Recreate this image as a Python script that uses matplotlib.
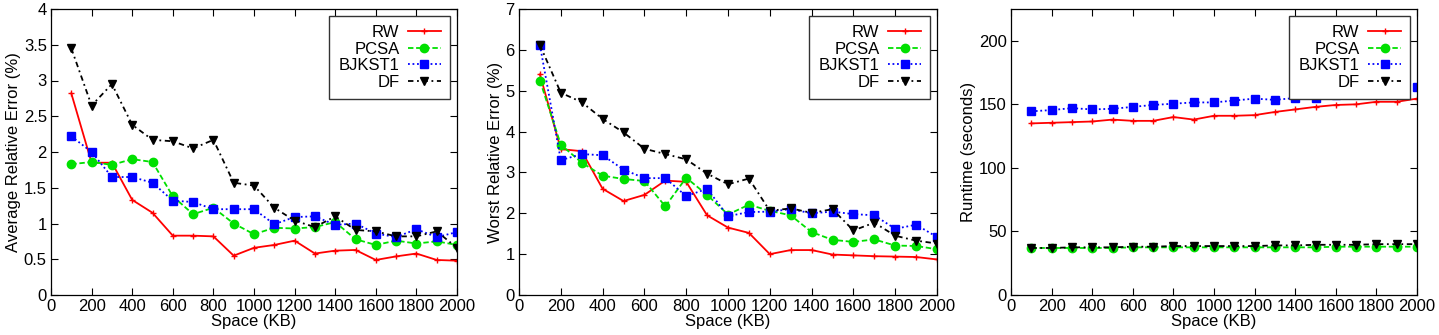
import numpy as np
import matplotlib
matplotlib.use('Agg')
import matplotlib.pyplot as plt
from matplotlib.ticker import FormatStrFormatter

plt.rcParams['font.family'] = ['Liberation Sans', 'DejaVu Sans']
plt.rcParams['font.size'] = 12

# space in KB
space = list(range(100, 2001, 100))

# average relative error (%)
avg_rw = [2.82, 1.85, 1.85, 1.33, 1.15, 0.83, 0.83, 0.82, 0.55, 0.66,
          0.70, 0.76, 0.58, 0.62, 0.63, 0.49, 0.54, 0.58, 0.49, 0.48]
avg_pcsa = [1.83, 1.86, 1.82, 1.90, 1.86, 1.38, 1.13, 1.22, 1.00, 0.85,
            0.94, 0.93, 0.95, 1.02, 0.78, 0.70, 0.76, 0.72, 0.75, 0.70]
avg_bjkst = [2.22, 2.00, 1.65, 1.65, 1.57, 1.32, 1.30, 1.20, 1.20, 1.20,
             0.99, 1.09, 1.10, 0.98, 1.00, 0.86, 0.81, 0.92, 0.81, 0.88]
avg_df = [3.45, 2.65, 2.95, 2.38, 2.17, 2.15, 2.05, 2.17, 1.57, 1.53,
          1.22, 1.04, 0.95, 1.10, 0.91, 0.89, 0.82, 0.82, 0.89, 0.66]

# worst relative error (%)
worst_rw = [5.40, 3.57, 3.52, 2.60, 2.30, 2.45, 2.80, 2.77, 1.95, 1.65,
            1.52, 1.00, 1.10, 1.10, 0.99, 0.97, 0.95, 0.94, 0.93, 0.87]
worst_pcsa = [5.25, 3.68, 3.24, 2.92, 2.84, 2.79, 2.17, 2.87, 2.45, 1.97,
              2.21, 2.06, 1.95, 1.54, 1.35, 1.30, 1.36, 1.21, 1.20, 1.12]
worst_bjkst = [6.12, 3.30, 3.45, 3.42, 3.07, 2.86, 2.86, 2.42, 2.60, 1.93,
               2.03, 2.04, 2.10, 2.00, 2.04, 1.98, 1.95, 1.62, 1.72, 1.42]
worst_df = [6.12, 4.95, 4.72, 4.31, 3.98, 3.58, 3.45, 3.32, 2.97, 2.71,
            2.85, 2.06, 2.12, 2.01, 2.10, 1.58, 1.77, 1.45, 1.33, 1.26]

# runtime (seconds)
rt_rw = [135, 135.5, 136, 136.5, 138, 137, 137, 140, 138, 141,
         141, 141.5, 144, 146, 148, 149.5, 150, 152, 152, 154.5]
rt_pcsa = [37, 37, 37, 37, 37, 37.5, 37.5, 37.5, 37.5, 37.5,
           37.5, 37.5, 37.5, 37.5, 37.5, 38, 38, 38, 38, 38]
rt_bjkst = [144.5, 145.5, 147, 146, 146.5, 148, 149.5, 150.5, 151.5, 151.5,
            153, 154.5, 153.5, 155, 155, 157.5, 159.5, 160.5, 162.5, 163.5]
rt_df = [37, 37, 37.5, 37.5, 37.5, 38, 38, 38.5, 38.5, 38.5,
         38.5, 38.5, 39, 39, 39.5, 39.5, 39.5, 40, 40, 40]

names = ['RW', 'PCSA', 'BJKST1', 'DF']
styles = [
    dict(color='#ff0000', linestyle='-', marker='+', markersize=5, lw=1.3),
    dict(color='#00e000', linestyle=(0, (3, 1.5)), marker='o', markersize=6, lw=1.3),
    dict(color='#0000ff', linestyle=(0, (1, 1.5)), marker='s', markersize=6, lw=1.3),
    dict(color='#000000', linestyle=(0, (3, 2, 1, 2)), marker='v', markersize=6, lw=1.3),
]

W, H = 1439, 335
fig = plt.figure(figsize=(W / 100, H / 100), dpi=100)

def add_panel(x0, x1, series, ylabel, ylim, ystep, fmt):
    ax = fig.add_axes([x0 / W, (H - 295) / H, (x1 - x0) / W, (295 - 9) / H])
    for name, ys, st in zip(names, series, styles):
        ax.plot(space, ys, label=name, **st)
    ax.set_xlim(0, 2000)
    ax.set_ylim(*ylim)
    ax.set_xticks(np.arange(0, 2001, 200))
    ax.set_yticks(np.arange(0, ylim[1] + 1e-9, ystep))
    ax.yaxis.set_major_formatter(FormatStrFormatter(fmt))
    ax.tick_params(direction='in', top=True, right=True, length=5, width=0.8,
                   labelsize=12, pad=3)
    for sp in ax.spines.values():
        sp.set_linewidth(0.9)
    ax.set_xlabel('Space (KB)', labelpad=0)
    ax.set_ylabel(ylabel, labelpad=2)
    leg = ax.legend(loc='upper right', markerfirst=False, fancybox=False,
                    edgecolor='#333333', framealpha=1, handlelength=2.0,
                    labelspacing=0.1, borderpad=0.55, handletextpad=0.5,
                    borderaxespad=0.4, fontsize=12)
    leg.get_frame().set_linewidth(1.0)
    return ax

add_panel(51, 457, [avg_rw, avg_pcsa, avg_bjkst, avg_df],
          'Average Relative Error (%)', (0, 4), 0.5, '%g')
add_panel(519, 937, [worst_rw, worst_pcsa, worst_bjkst, worst_df],
          'Worst Relative Error (%)', (0, 7), 1, '%g')
add_panel(1011, 1417, [rt_rw, rt_pcsa, rt_bjkst, rt_df],
          'Runtime (seconds)', (0, 225), 50, '%g')

fig.savefig('out.png', dpi=100)
